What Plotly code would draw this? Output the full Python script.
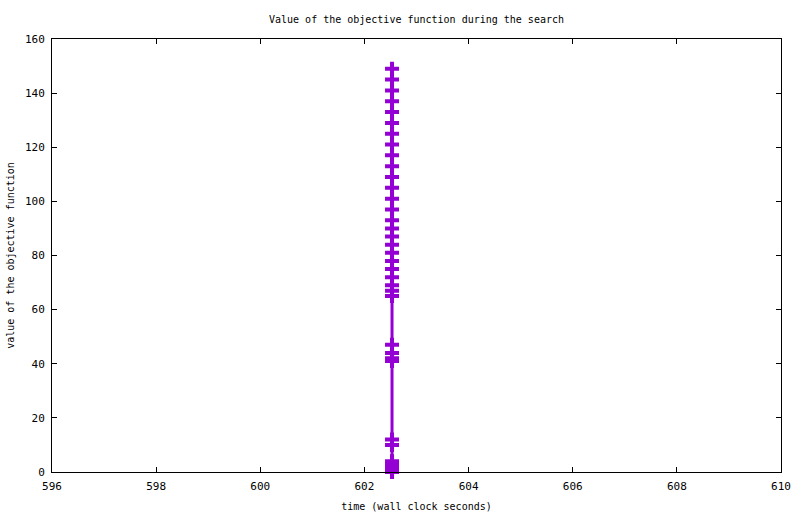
import plotly.graph_objects as go

# objective value samples (all logged at ~602.53 s wall clock)
values = [0, 1, 2, 3, 4, 10, 12, 41, 42, 44, 47, 65, 67, 69, 72, 75, 78, 81,
          84, 87, 90, 93, 97, 101, 105, 109, 113, 117, 121, 125, 129, 133,
          137, 141, 145, 149]
times = [602.53, 602.53, 602.53, 602.53, 602.53, 602.53, 602.53, 602.53,
         602.53, 602.53, 602.53, 602.53, 602.53, 602.53, 602.53, 602.53,
         602.53, 602.53, 602.53, 602.53, 602.53, 602.53, 602.53, 602.53,
         602.53, 602.53, 602.53, 602.53, 602.53, 602.53, 602.53, 602.53,
         602.53, 602.53, 602.53, 602.53]
x_ticks = [596, 598, 600, 602, 604, 606, 608, 610]
y_ticks = [0, 20, 40, 60, 80, 100, 120, 140, 160]

font = dict(family="DejaVu Sans Mono", size=10, color="black")
tick_font = dict(family="DejaVu Sans Mono", size=11, color="black")
violet = "#9400d3"

fig = go.Figure()
fig.add_trace(go.Scatter(x=times, y=values, mode='lines+markers',
                         line=dict(color=violet, width=3),
                         marker=dict(symbol='cross-thin', size=10,
                                     line=dict(color=violet, width=4)),
                         cliponaxis=False, showlegend=False))

axis = dict(showline=True, linecolor='black', linewidth=1, mirror='ticks',
            ticks='inside', ticklen=5, tickcolor='black', showgrid=False,
            zeroline=False, tickfont=tick_font, automargin=False)

fig.update_layout(
    width=800, height=514,
    paper_bgcolor='white', plot_bgcolor='white',
    margin=dict(l=52, r=19, t=39, b=42, autoexpand=False),
    font=font,
    title=dict(text='Value of the objective function during the search',
               xref='paper', x=0.5, xanchor='center',
               y=1 - 19 / 514, yanchor='middle',
               font=font, automargin=False),
    xaxis=dict(axis, range=[596, 610], tickvals=x_ticks, ticklabelstandoff=4,
               title=dict(text='time (wall clock seconds)', font=font, standoff=10)),
    yaxis=dict(axis, range=[0, 160], tickvals=y_ticks, ticklabelstandoff=4,
               title=dict(text='value of the objective function', font=font, standoff=8)),
)

# page body has a default 8px margin; drop it so the figure fills the window
fig.write_html("out.html", config={'displayModeBar': False},
               post_script="document.body.style.margin='0';document.body.style.overflow='hidden';")
